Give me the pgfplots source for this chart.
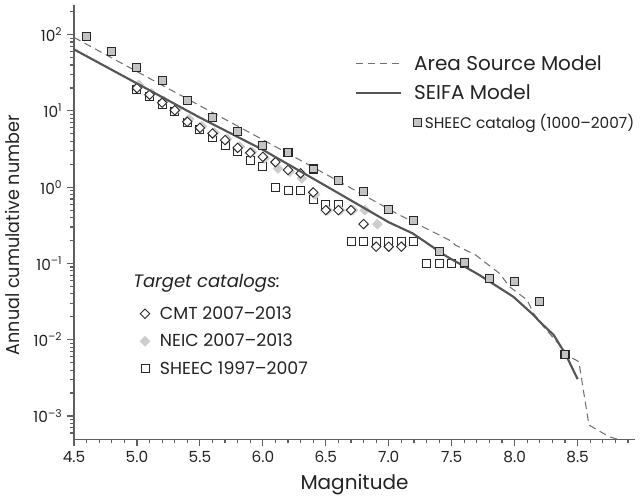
\documentclass[border=0pt]{standalone}
\usepackage{fontspec}
\setmainfont{Poppins}
\usepackage{pgfplots}
\pgfplotsset{compat=1.18}
\definecolor{axisgray}{RGB}{95,95,95}
\definecolor{txt}{RGB}{35,35,35}
\definecolor{solidgray}{RGB}{85,85,85}
\definecolor{dashgray}{RGB}{115,115,115}
\definecolor{sqfill}{RGB}{195,195,195}
\definecolor{neic}{RGB}{205,205,205}
\definecolor{mkdraw}{RGB}{40,40,40}

\begin{document}
\begin{tikzpicture}
% ---------- target catalogs (drawn first, below lines) ----------
\begin{axis}[at={(0pt,0pt)}, anchor=south west, scale only axis,
  width=420.75pt, height=325.7pt,
  xmin=4.5, xmax=8.956, ymode=log, ymin=4.95e-4, ymax=244,
  hide axis,
  legend cell align=left,
  legend image code/.code={\path[draw=none] (0pt,0pt) -- (16pt,0pt);\draw[#1] plot coordinates {(8pt,0pt)};},
  legend style={draw=none, fill=none, inner sep=0pt, outer sep=0pt,
    at={(0.10755,0.3061)}, anchor=north west,
    row sep=9.6pt, column sep=3.25pt,
    nodes={inner sep=0pt, text=txt, font=\fontsize{13}{15}\selectfont}},
]
\addplot[forget plot, only marks, mark=square*, mark size=3pt, mark options={fill=white, draw=mkdraw, line width=0.7pt}] coordinates {
(5.0,19.3) (5.1,15.6) (5.2,12.3) (5.3,9.9) (5.4,7.1) (5.5,5.7) (5.6,4.5) (5.7,3.56) (5.8,2.91) (5.9,2.26)
(6.0,1.89) (6.1,0.99) (6.2,0.90) (6.3,0.90) (6.4,0.70) (6.5,0.595) (6.6,0.595)
(6.7,0.197) (6.8,0.197) (6.9,0.197) (7.0,0.197) (7.1,0.197) (7.2,0.197)
(7.3,0.100) (7.4,0.100) (7.5,0.100) (7.6,0.100)};
\addplot[forget plot, only marks, mark=square*, mark size=2.5pt, mark options={rotate=45, fill=neic, draw=neic, line width=0.7pt}] coordinates {
(5.015,22) (5.115,17) (5.215,13.5) (5.315,10.5) (5.415,7.8) (5.515,6.3) (5.615,5.2) (5.715,4.3) (5.815,3.4) (5.915,2.9)
(6.015,2.4) (6.12,1.76) (6.215,1.6) (6.31,1.30) (6.415,0.80) (6.515,0.50) (6.615,0.50) (6.715,0.50) (6.81,0.50) (6.91,0.328)};
\addplot[forget plot, only marks, mark=square*, mark size=2.5pt, mark options={rotate=45, fill=white, draw=mkdraw, line width=0.7pt}] coordinates {
(5.0,19.9) (5.1,16.3) (5.2,12.8) (5.3,10.2) (5.4,7.2) (5.5,6.0) (5.6,5.07) (5.7,4.14) (5.8,3.28) (5.9,2.82)
(6.0,2.50) (6.1,2.13) (6.2,1.68) (6.3,1.52) (6.4,0.855) (6.5,0.50) (6.6,0.50) (6.7,0.50) (6.8,0.328)
(6.9,0.166) (7.0,0.166) (7.1,0.166)};
\addlegendimage{only marks, mark=square*, mark size=2.5pt, mark options={rotate=45, fill=white, draw=mkdraw, line width=0.7pt}}
\addlegendentry{CMT 2007\textendash 2013\rule[-3pt]{0pt}{9.5pt}}
\addlegendimage{only marks, mark=square*, mark size=2.5pt, mark options={rotate=45, fill=neic, draw=neic, line width=0.7pt}}
\addlegendentry{NEIC 2007\textendash 2013\rule[-3pt]{0pt}{9.5pt}}
\addlegendimage{only marks, mark=square*, mark size=3pt, mark options={fill=white, draw=mkdraw, line width=0.7pt}}
\addlegendentry{SHEEC 1997\textendash 2007\rule[-3pt]{0pt}{9.5pt}}
\node[anchor=west, inner sep=0pt, text=txt, font=\fontsize{13.5}{15}\selectfont] at (axis description cs:0.1052,0.3583) {\textit{Target catalogs:}};
\end{axis}

% ---------- models and long catalog ----------
\begin{axis}[at={(0pt,0pt)}, anchor=south west, scale only axis,
  width=420.75pt, height=325.7pt,
  xmin=4.5, xmax=8.956, ymode=log, ymin=4.95e-4, ymax=244,
  axis lines=left,
  axis line style={axisgray, line width=0.9pt, -},
  tick align=outside,
  major tick length=5.25pt, minor tick length=3pt,
  every tick/.style={axisgray, line width=0.9pt},
  xtick={4.5,5.0,5.5,6.0,6.5,7.0,7.5,8.0,8.5},
  minor xtick={4.6,4.7,4.8,4.9,5.1,5.2,5.3,5.4,5.6,5.7,5.8,5.9,6.1,6.2,6.3,6.4,6.6,6.7,6.8,6.9,7.1,7.2,7.3,7.4,7.6,7.7,7.8,7.9,8.1,8.2,8.3,8.4,8.6,8.7,8.8,8.9},
  ytick={1e-3,1e-2,1e-1,1,10,100},
  yticklabels={10\textsuperscript{\textendash3},10\textsuperscript{\textendash2},10\textsuperscript{\textendash1},10\textsuperscript{0},10\textsuperscript{1},10\textsuperscript{2}},
  minor ytick={6e-4,7e-4,8e-4,9e-4,2e-3,3e-3,4e-3,5e-3,6e-3,7e-3,8e-3,9e-3,2e-2,3e-2,4e-2,5e-2,6e-2,7e-2,8e-2,9e-2,0.2,0.3,0.4,0.5,0.6,0.7,0.8,0.9,2,3,4,5,6,7,8,9,20,30,40,50,60,70,80,90,200},
  /pgf/number format/assume math mode=true,
  xticklabel style={/pgf/number format/.cd, fixed, fixed zerofill, precision=1, /tikz/.cd, font=\fontsize{11.5}{13}\selectfont, text=txt},
  yticklabel style={font=\fontsize{11.5}{13}\selectfont, text=txt},
  xlabel={Magnitude},
  ylabel={\scalebox{0.94}[1]{Annual cumulative number}},
  every axis x label/.style={at={(axis description cs:0.5,0)}, anchor=center, yshift=-34.3pt, font=\fontsize{15}{17}\selectfont, text=txt},
  every axis y label/.style={at={(axis description cs:-0.109,0.47)}, anchor=center, rotate=90, font=\fontsize{14}{16}\selectfont, text=txt},
  legend cell align=left,
  legend image code/.code={\draw[#1] (0pt,0pt) -- (33.75pt,0pt);},
  legend style={draw=none, fill=none, inner sep=0pt, outer sep=0pt,
    at={(0.5009,0.884)}, anchor=north west,
    row sep=9.5pt, column sep=9pt,
    nodes={inner sep=0pt, text=txt, font=\fontsize{15}{17}\selectfont}},
]
\addplot[dashgray, line width=0.8pt, dash pattern=on 5.5pt off 3.5pt] coordinates {
(4.5,91.9) (5.0,32.8) (5.5,11.7) (6.0,4.19) (6.5,1.48) (6.93,0.60) (7.06,0.454) (7.27,0.303) (7.48,0.203) (7.53,0.174)
(7.69,0.129) (7.77,0.102) (7.88,0.0741) (7.96,0.0495) (8.10,0.0331) (8.15,0.0222) (8.23,0.0148) (8.44,0.00598)
(8.51,0.00515) (8.59,0.000762) (8.75,0.000536) (8.82,0.000495)};
\addlegendentry{Area Source Model\rule[-3.5pt]{0pt}{11pt}}
\addplot[solidgray, line width=1.6pt] coordinates {
(4.5,64) (5.0,22.9) (5.5,8.17) (6.0,3.09) (6.5,1.04) (7.0,0.347) (7.19,0.248) (7.455,0.125) (7.72,0.0705)
(7.99,0.0366) (8.15,0.0211) (8.2,0.0172) (8.31,0.01153) (8.405,0.00644) (8.5,0.00305)};
\addlegendentry{SEIFA Model\rule[-3.5pt]{0pt}{11pt}}
\addplot[only marks, mark=square*, mark size=3pt, mark options={fill=sqfill, draw=mkdraw, line width=0.8pt},
  legend image code/.code={\path[draw=none] (0pt,0pt) -- (33.75pt,0pt);\draw[overlay, only marks, mark=square*, mark size=3pt, mark options={fill=sqfill, draw=mkdraw, line width=0.8pt}] plot coordinates {(45.75pt,0pt)};}] coordinates {
(4.6,93.6) (4.8,60.8) (5.0,36.7) (5.2,24.8) (5.4,13.5) (5.6,8.3) (5.8,5.3) (6.0,3.56) (6.2,2.86) (6.4,1.73)
(6.6,1.24) (6.8,0.87) (7.0,0.51) (7.2,0.363) (7.4,0.142) (7.6,0.103) (7.8,0.0638) (8.0,0.0576) (8.2,0.0321) (8.4,0.00644)};
\addlegendentry{\hspace*{8pt}\fontsize{11.5}{14}\selectfont SHEEC catalog (1000\textendash 2007)\rule[-3.5pt]{0pt}{11pt}}
\end{axis}
\pgfresetboundingbox
\path[use as bounding box] (-55.5pt,-44pt) rectangle (426.75pt,329.5pt);
\end{tikzpicture}
\end{document}
